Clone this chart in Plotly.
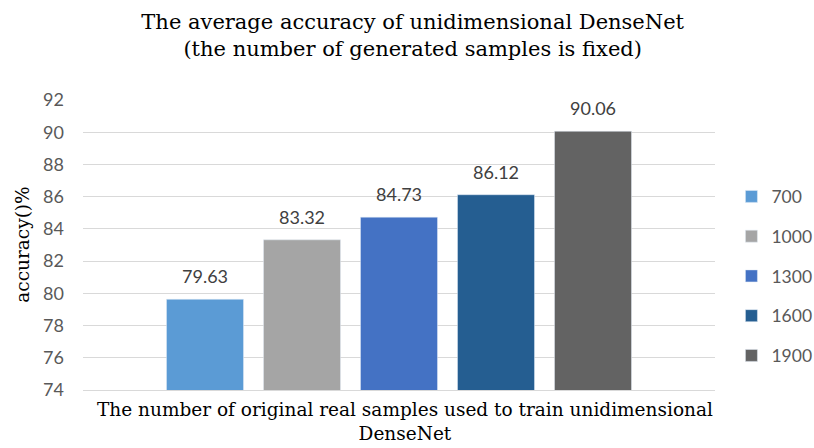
import plotly.graph_objects as go

series_names = ["700", "1000", "1300", "1600", "1900"]
accuracy = [79.63, 83.32, 84.73, 86.12, 90.06]
colors = ["#5B9BD5", "#A5A5A5", "#4472C4", "#255E91", "#636363"]
y_ticks = [74, 76, 78, 80, 82, 84, 86, 88, 90, 92]

title_text = "The average accuracy of unidimensional DenseNet<br>(the number of generated samples is fixed)"
x_title = "The number of original real samples used to train unidimensional<br>DenseNet"
y_title = "accuracy()%"

serif = "DejaVu Serif"
sans = "Lato"

fig = go.Figure()
for i, (name, val, col) in enumerate(zip(series_names, accuracy, colors)):
    fig.add_trace(go.Bar(
        x=[i], y=[val], name=name, marker_color=col, width=0.794,
        legendgroup=name, hoverinfo="y",
    ))
    fig.add_annotation(x=i, y=val, xref="x", yref="y", text=f"{val:.2f}",
                       showarrow=False, yshift=23, yanchor="middle",
                       font=dict(family=sans, size=18, color="#404040"))

n = len(series_names)
half = 632 / 97 / 2
center = (n - 1) / 2

fig.update_layout(
    width=814, height=448,
    margin=dict(l=83, r=99, t=100, b=58, autoexpand=False),
    paper_bgcolor="white", plot_bgcolor="white",
    barmode="overlay",
    title=dict(text=title_text, x=0.507, xanchor="center", y=0.935, yanchor="top",
               font=dict(family=serif, size=21, color="#000000")),
    legend=dict(x=1.026, xanchor="left", y=0.393, yanchor="middle",
                font=dict(family=sans, size=17.5, color="#595959"),
                tracegroupgap=14, bgcolor="rgba(0,0,0,0)"),
    showlegend=True,
)
fig.update_xaxes(range=[center - half, center + half], showticklabels=False,
                 showgrid=False, zeroline=False, showline=True,
                 linecolor="#D9D9D9", linewidth=1)
fig.update_yaxes(range=[74, 92], tickvals=y_ticks, showgrid=True,
                 gridcolor="#D9D9D9", gridwidth=1, zeroline=False,
                 tickfont=dict(family=sans, size=18, color="#595959"),
                 ticklabelstandoff=18)

fig.add_annotation(x=0.51, y=-0.025, xref="paper", yref="paper", text=x_title,
                   showarrow=False, xanchor="center", yanchor="top",
                   font=dict(family=serif, size=18.5, color="#000000"))
fig.add_annotation(x=-0.097, y=0.5, xref="paper", yref="paper", text=y_title,
                   showarrow=False, textangle=-90, xanchor="center", yanchor="middle",
                   font=dict(family=serif, size=18.5, color="#000000"))

fig.write_html("out.html", config={"displayModeBar": False},
               post_script="document.body.style.margin='0px';")
